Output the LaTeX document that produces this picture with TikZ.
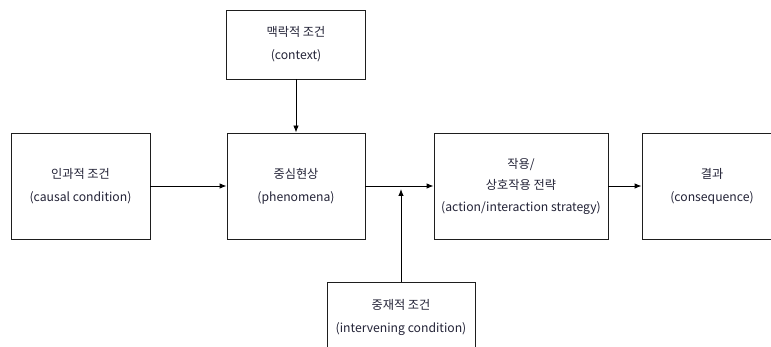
\documentclass[tikz,border=0pt]{standalone}
\usepackage{fontspec}
\setmainfont{Noto Sans CJK KR}
\usepackage{tikz}
\usetikzlibrary{arrows.meta}
\definecolor{textdark}{RGB}{35, 35, 55}
\definecolor{boxline}{RGB}{30, 30, 30}

\tikzset{
  stagebox/.style={draw=boxline, fill=white, line width=0.9pt,
    align=center, font=\fontsize{12.2}{23}\selectfont, text=textdark,
    inner sep=0pt},
  flow/.style={line width=0.9pt, -{Latex[length=7pt,width=5.5pt]}}
}

\begin{document}
\begin{tikzpicture}[x=1pt, y=-1pt]
      \useasboundingbox (0,0) rectangle (771,347);
      \clip (0,0) rectangle (771,347);
      % boxes
      \node[stagebox, minimum width=139pt, minimum height=106pt] (causal) at (80.5,186) {인과적 조건\\(causal condition)};
      \node[stagebox, minimum width=138pt, minimum height=106pt] (phen) at (296,186) {중심현상\\(phenomena)};
      \node[stagebox, minimum width=139pt, minimum height=69pt] (context) at (296,44.5) {맥락적 조건\\(context)};
      \node[stagebox, minimum width=174pt, minimum height=106pt, font=\fontsize{12.2}{21.5}\selectfont] (action) at (521,186) {작용/\\상호작용 전략\\(action/interaction strategy)};
      \node[stagebox, minimum width=140pt, minimum height=106pt] (conseq) at (712,186) {결과\\(consequence)};
      \node[stagebox, minimum width=148pt, minimum height=70pt] (interv) at (401,317) {중재적 조건\\(intervening condition)};
      % connectors
      \coordinate (meet) at (401,189);
      \draw[flow] (causal) -- (phen);
      \draw[flow] (context) -- (phen);
      \draw[flow] (phen) -- (action);
      \draw[flow] (interv) -- (meet);
      \draw[flow] (action) -- (conseq);
    \end{tikzpicture}
\end{document}
